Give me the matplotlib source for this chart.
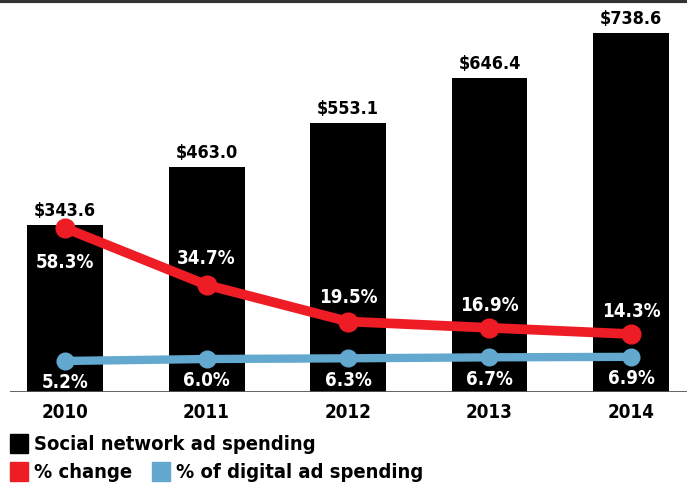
import matplotlib
matplotlib.use('Agg')
from matplotlib import pyplot as plt
from matplotlib.patches import Rectangle
from matplotlib.lines import Line2D

years = ['2010', '2011', '2012', '2013', '2014']
spending = [343.6, 463.0, 553.1, 646.4, 738.6]
pct_change = [58.3, 34.7, 19.5, 16.9, 14.3]
pct_digital = [5.2, 6.0, 6.3, 6.7, 6.9]
spend_labels = ['$343.6', '$463.0', '$553.1', '$646.4', '$738.6']

RED = '#ee1c25'
BLUE = '#62a8cf'
plt.rcParams['font.family'] = ['Liberation Sans Narrow', 'DejaVu Sans']
plt.rcParams['font.stretch'] = 'condensed'
plt.rcParams['font.weight'] = 'bold'
FS = 13.5

W, H = 687, 485
fig = plt.figure(figsize=(W / 100, H / 100), dpi=100)
ax = fig.add_axes([10 / W, (H - 393) / H, 677 / W, 389 / H])
x = list(range(len(years)))

ax.bar(x, spending, width=0.537, color='black', zorder=1)
ax.set_xlim(-0.389, 4.396)
ax.set_ylim(0, 800)
for s in ax.spines.values():
    s.set_visible(False)
ax.set_yticks([])
ax.set_xticks(x)
ax.set_xticklabels(years, fontsize=13.5, fontweight='bold')
ax.tick_params(axis='x', length=0, pad=7)
ax.axhline(0, color='#555555', lw=2, zorder=5)

for xi, v, lab in zip(x, spending, spend_labels):
    ax.annotate(lab, (xi, v), xytext=(0, 4), textcoords='offset points',
                ha='center', va='bottom', fontsize=13, fontweight='bold')

# red line: % change
ax2 = ax.twinx()
ax2.set_ylim(-9.75, 151.7)
ax2.axis('off')
ax2.plot(x, pct_change, color=RED, lw=7, marker='o', ms=13.5,
         solid_joinstyle='round', solid_capstyle='round', zorder=3)
offsets = [-24, 20, 18, 17, 17]
for xi, v, off in zip(x, pct_change, offsets):
    ax2.annotate('%.1f%%' % v, (xi, v), xytext=(0, off), textcoords='offset points',
                 ha='center', va='center', color='white', fontsize=FS,
                 fontweight='bold')

# blue line: % of digital ad spending
ax3 = ax.twinx()
ax3.set_ylim(-7.68, 153.7)
ax3.axis('off')
ax3.plot(x, pct_digital, color=BLUE, lw=6, marker='o', ms=12,
         solid_joinstyle='round', solid_capstyle='round', zorder=3)
for xi, v in zip(x, pct_digital):
    ax3.annotate('%.1f%%' % v, (xi, v), xytext=(0, -15), textcoords='offset points',
                 ha='center', va='center', color='white', fontsize=FS,
                 fontweight='bold')

# top rule
fig.add_artist(Line2D([0, 1], [1 - 2 / H, 1 - 2 / H], color='#333333', lw=3))

# legend
def legend_item(px, py, color, text):
    fig.add_artist(Rectangle((px / W, 1 - (py + 9) / H), 18 / W, 19 / H,
                             color=color, transform=fig.transFigure))
    fig.text((px + 24) / W, 1 - py / H, text, fontsize=14.5, fontweight='bold',
             va='center', ha='left')

legend_item(10, 445, 'black', 'Social network ad spending')
legend_item(10, 473, RED, '% change')
legend_item(152, 473, BLUE, '% of digital ad spending')

fig.savefig('out.png', dpi=100)
